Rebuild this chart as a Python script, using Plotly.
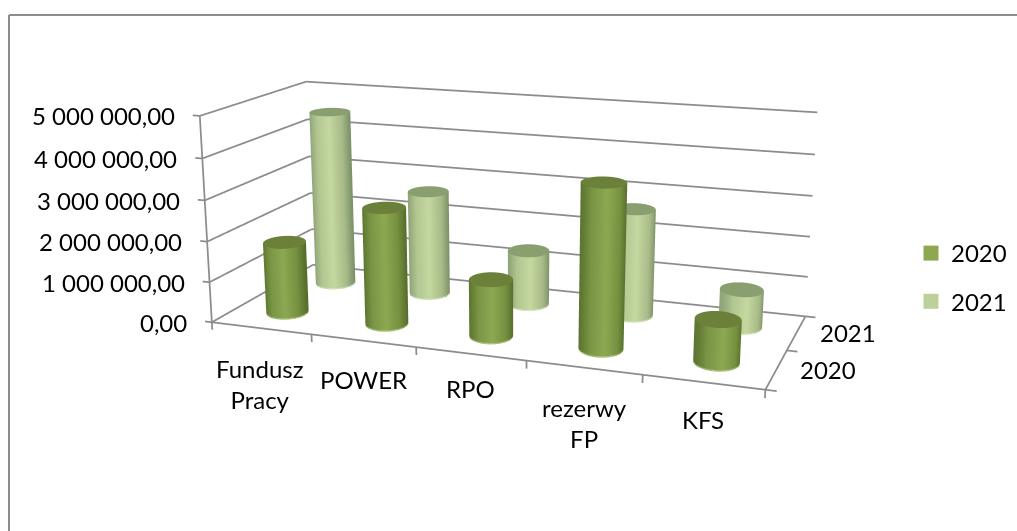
import numpy as np
import plotly.graph_objects as go

categories = ["Fundusz<br>Pracy", "POWER", "RPO", "rezerwy<br>FP", "KFS"]
years = ["2020", "2021"]
values_2020 = [1770000, 2850000, 1370000, 3870000, 1000000]
values_2021 = [4500000, 2650000, 1370000, 2650000, 920000]
value_ticks = [0, 1000000, 2000000, 3000000, 4000000, 5000000]
value_labels = ["0,00", "1 000 000,00", "2 000 000,00", "3 000 000,00", "4 000 000,00", "5 000 000,00"]

W, H_FIG, SHIFT = 1017, 1231, 350
FONT = dict(family="Lato", size=24, color="#000000")
GRID = "#8c8c8c"

SERIES = [
    dict(name="2020", row=0.5, vals=values_2020, legend="#8da851", cap="#6b8038", rim="#b5c98a",
         scale=[[0, "#5d7530"], [0.2, "#7a9645"], [0.5, "#8ea852"], [0.8, "#76913f"], [1, "#566c2c"]]),
    dict(name="2021", row=1.5, vals=values_2021, legend="#bcd09a", cap="#8a9f70", rim="#d8e6c0",
         scale=[[0, "#8fa478"], [0.2, "#b2c691"], [0.5, "#c5d8a0"], [0.8, "#a8bb88"], [1, "#7c9068"]]),
]
LIGHT = dict(ambient=1, diffuse=0, specular=0, roughness=1, fresnel=0)

XR, YR, ZR = [-0.2, 5.2], [-0.02, 2.02], [-300000, 5100000]
X0, Y0, Z0 = [0, 5], [0, 2], [0, 5000000]
ASP = np.array([1, 0.3976, 0.3759])
EYE = np.array([0.8668, -2.4088, 0.6525])
CEN = np.array([-0.2112, 0.5741, -0.2631])
ranges_new, ranges_old = [XR, YR, ZR], [X0, Y0, Z0]
len_old = np.array([r[1] - r[0] for r in ranges_old], float)
len_new = np.array([r[1] - r[0] for r in ranges_new], float)
mid_old = np.array([sum(r) / 2 for r in ranges_old], float)
mid_new = np.array([sum(r) / 2 for r in ranges_new], float)
asp_new = ASP * len_new / len_old
delta = ASP * (mid_new - mid_old) / len_old
eye_new, cen_new = EYE - delta, CEN - delta

fig = go.Figure()
theta = np.linspace(0, 2 * np.pi, 97)

def surf(x, y, z, sc, scale):
    fig.add_trace(go.Surface(x=x, y=y, z=z, surfacecolor=sc, colorscale=scale, cmin=0, cmax=1,
                             showscale=False, lighting=LIGHT, hoverinfo="skip", showlegend=False))

lx, ly, lz = [], [], []
def seg(a, b):
    lx.extend([a[0], b[0], None]); ly.extend([a[1], b[1], None]); lz.extend([a[2], b[2], None])
for v in value_ticks:
    seg((0, 0, v), (0, 2, v))
    seg((0, 2, v), (5, 2, v))
    seg((0, 0, v), (-0.07, 0, v))
seg((0, 0, 0), (0, 0, 5000000))
seg((0, 0, 0), (5, 0, 0))
seg((5, 0, 0), (5, 2, 0))
for i in range(6):
    seg((i, 0, 0), (i, 0, -190000))
for j in range(3):
    seg((5, j, 0), (5.09, j, 0))
fig.add_trace(go.Scatter3d(x=lx, y=ly, z=lz, mode="lines", line=dict(color=GRID, width=3.5),
                           hoverinfo="skip", showlegend=False, connectgaps=False))

for s in SERIES[::-1]:
    for i, v in enumerate(s["vals"]):
        cx, cy = i + 0.5, s["row"]
        # base outline chosen to look level on screen, as in the source chart
        X = cx + 0.1745 * np.cos(theta) - 0.0891 * np.sin(theta)
        Y = cy + 0.081 * np.cos(theta) + 0.2086 * np.sin(theta)
        xs = np.vstack([X, X]); ys = np.vstack([Y, Y])
        zs = np.vstack([np.zeros_like(X), np.full_like(X, v)])
        t = 0.5 + 0.5 * np.cos(theta)
        surf(xs, ys, zs, np.vstack([t, t]), s["scale"])
        surf(xs, ys, np.vstack([np.zeros_like(X), np.full_like(X, 35000.0)]), np.zeros_like(xs),
             [[0, s["rim"]], [1, s["rim"]]])
        surf(np.vstack([np.full_like(X, cx), X]), np.vstack([np.full_like(Y, cy), Y]),
             np.full_like(xs, v), np.zeros_like(xs), [[0, s["cap"]], [1, s["cap"]]])

for s in SERIES:
    fig.add_trace(go.Scatter3d(x=[None], y=[None], z=[None], mode="markers", name=s["name"],
                               legendgroup=s["name"],
                               marker=dict(symbol="square", size=15, color=s["legend"]), hoverinfo="skip"))

ann = []
for v, lab in zip(value_ticks, value_labels):
    ann.append(dict(x=0, y=0, z=v, text=lab, showarrow=False, xanchor="right", yanchor="middle",
                    xshift=-23, yshift=0, font=FONT))
cat_shift = [(-1, -56), (0, -39), (0, -35), (1, -55), (0, -37)]
for i, (lab, sh) in enumerate(zip(categories, cat_shift)):
    ann.append(dict(x=i + 0.5, y=0, z=0, text=lab, showarrow=False, xanchor="center", yanchor="middle",
                    xshift=sh[0], yshift=sh[1], font=FONT))
for j, lab in enumerate(years):
    ann.append(dict(x=5, y=j + 0.5, z=0, text=lab, showarrow=False, xanchor="center", yanchor="middle",
                    xshift=52, yshift=0, font=FONT))

axis = dict(visible=False, showbackground=False, showspikes=False)
def py(y):
    return 1 - (y + SHIFT) / H_FIG

fig.update_layout(
    width=W, height=H_FIG, autosize=False, margin=dict(l=0, r=0, t=0, b=0, pad=0),
    paper_bgcolor="white", showlegend=True,
    legend=dict(x=911 / W, y=py(231), xanchor="left", yanchor="top", font=FONT, tracegroupgap=14,
                bgcolor="rgba(0,0,0,0)", itemclick=False, itemdoubleclick=False),
    scene=dict(
        domain=dict(x=[0, 1], y=[0, 1]),
        xaxis=dict(axis, range=XR),
        yaxis=dict(axis, range=YR),
        zaxis=dict(axis, range=ZR),
        aspectmode="manual", aspectratio=dict(x=asp_new[0], y=asp_new[1], z=asp_new[2]),
        camera=dict(eye=dict(x=eye_new[0], y=eye_new[1], z=eye_new[2]),
                    center=dict(x=cen_new[0], y=cen_new[1], z=cen_new[2]),
                    up=dict(x=0, y=0, z=1), projection=dict(type="perspective")),
        annotations=ann,
    ),
    shapes=[
        dict(type="line", xref="paper", yref="paper", x0=9 / W, x1=1, y0=py(15), y1=py(15),
             line=dict(color=GRID, width=2)),
        dict(type="line", xref="paper", yref="paper", x0=9 / W, x1=9 / W, y0=py(15), y1=py(531),
             line=dict(color=GRID, width=2)),
    ],
)
post = ("document.documentElement.style.overflow='hidden';document.body.style.overflow='hidden';"
        "document.body.style.margin='0';document.getElementById('{plot_id}').style.marginTop='-%dpx';" % SHIFT)
fig.write_html("out.html", post_script=post, config=dict(displayModeBar=False))
